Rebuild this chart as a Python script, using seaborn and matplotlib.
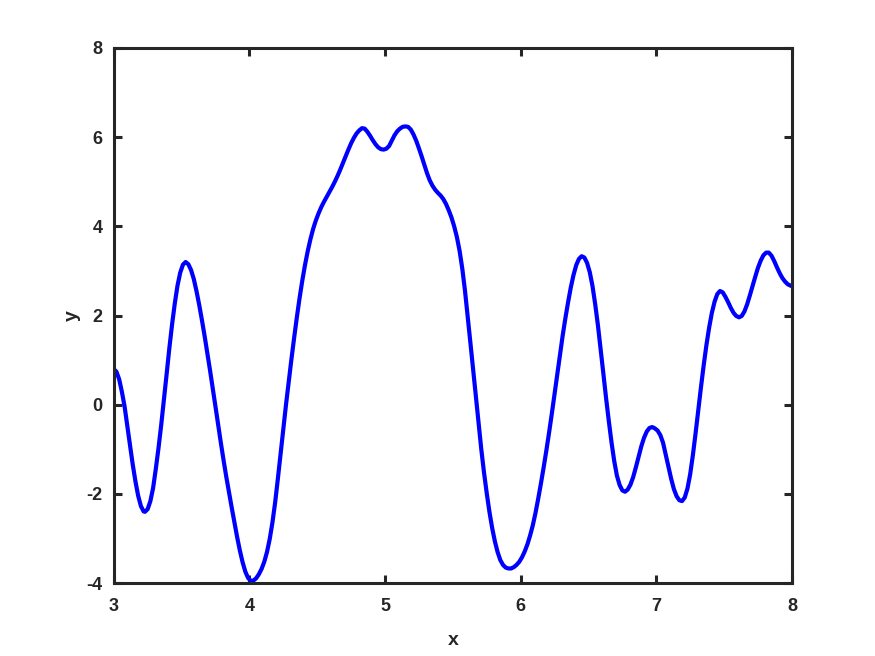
import matplotlib
matplotlib.use("Agg")
import matplotlib.pyplot as plt
import pandas as pd
import seaborn as sns

# values (x, y pairs, 10 per row)
x_vals = [
    3.00, 3.02, 3.04, 3.06, 3.08, 3.10, 3.12, 3.14, 3.16, 3.18,
    3.20, 3.22, 3.23, 3.25, 3.27, 3.29, 3.31, 3.33, 3.35, 3.37,
    3.39, 3.41, 3.43, 3.45, 3.47, 3.49, 3.51, 3.53, 3.55, 3.57,
    3.59, 3.61, 3.63, 3.65, 3.67, 3.69, 3.71, 3.73, 3.75, 3.77,
    3.79, 3.81, 3.83, 3.85, 3.87, 3.89, 3.91, 3.93, 3.95, 3.97,
    3.99, 4.01, 4.02, 4.03, 4.05, 4.07, 4.09, 4.11, 4.13, 4.15,
    4.17, 4.19, 4.21, 4.23, 4.25, 4.27, 4.29, 4.31, 4.33, 4.35,
    4.37, 4.39, 4.41, 4.43, 4.45, 4.47, 4.49, 4.51, 4.53, 4.55,
    4.57, 4.59, 4.61, 4.63, 4.65, 4.67, 4.69, 4.71, 4.73, 4.75,
    4.77, 4.79, 4.81, 4.83, 4.85, 4.87, 4.89, 4.91, 4.93, 4.95,
    4.97, 4.99, 5.01, 5.03, 5.05, 5.07, 5.09, 5.11, 5.13, 5.15,
    5.17, 5.19, 5.21, 5.23, 5.25, 5.27, 5.29, 5.31, 5.33, 5.35,
    5.37, 5.39, 5.41, 5.43, 5.45, 5.47, 5.49, 5.51, 5.53, 5.55,
    5.57, 5.59, 5.61, 5.63, 5.65, 5.67, 5.69, 5.71, 5.73, 5.75,
    5.77, 5.79, 5.81, 5.83, 5.85, 5.87, 5.89, 5.91, 5.93, 5.95,
    5.97, 5.99, 6.01, 6.03, 6.05, 6.07, 6.09, 6.11, 6.13, 6.15,
    6.17, 6.19, 6.21, 6.23, 6.25, 6.27, 6.29, 6.31, 6.33, 6.35,
    6.37, 6.39, 6.41, 6.43, 6.45, 6.47, 6.49, 6.51, 6.53, 6.55,
    6.57, 6.59, 6.61, 6.63, 6.65, 6.67, 6.69, 6.71, 6.73, 6.75,
    6.77, 6.79, 6.81, 6.83, 6.85, 6.87, 6.89, 6.91, 6.93, 6.95,
    6.97, 6.99, 7.01, 7.03, 7.05, 7.07, 7.09, 7.11, 7.13, 7.15,
    7.17, 7.19, 7.21, 7.23, 7.25, 7.27, 7.29, 7.31, 7.33, 7.35,
    7.37, 7.39, 7.41, 7.43, 7.45, 7.47, 7.49, 7.51, 7.53, 7.55,
    7.57, 7.59, 7.61, 7.63, 7.65, 7.67, 7.69, 7.71, 7.73, 7.75,
    7.77, 7.79, 7.81, 7.83, 7.85, 7.87, 7.89, 7.91, 7.93, 7.95,
    7.97, 7.99, 8.00,
]
y_vals = [
    0.80, 0.74, 0.57, 0.29, -0.04, -0.48, -0.91, -1.34, -1.72, -2.04,
    -2.27, -2.39, -2.40, -2.34, -2.16, -1.87, -1.44, -0.97, -0.45, 0.11,
    0.69, 1.27, 1.80, 2.27, 2.67, 2.96, 3.14, 3.20, 3.15, 3.02,
    2.82, 2.55, 2.24, 1.90, 1.54, 1.16, 0.77, 0.37, -0.04, -0.45,
    -0.86, -1.25, -1.62, -1.97, -2.31, -2.64, -2.97, -3.27, -3.53, -3.74,
    -3.88, -3.95, -3.95, -3.94, -3.89, -3.80, -3.68, -3.52, -3.30, -3.01,
    -2.64, -2.19, -1.66, -1.10, -0.54, 0.00, 0.52, 1.02, 1.50, 1.96,
    2.39, 2.78, 3.13, 3.44, 3.71, 3.94, 4.13, 4.29, 4.43, 4.55,
    4.66, 4.77, 4.88, 5.00, 5.13, 5.27, 5.42, 5.57, 5.72, 5.86,
    5.98, 6.08, 6.15, 6.20, 6.19, 6.12, 6.03, 5.93, 5.84, 5.77,
    5.73, 5.72, 5.74, 5.80, 5.92, 6.04, 6.13, 6.19, 6.23, 6.24,
    6.23, 6.17, 6.06, 5.92, 5.75, 5.57, 5.38, 5.19, 5.03, 4.91,
    4.82, 4.75, 4.69, 4.61, 4.50, 4.36, 4.20, 4.00, 3.76, 3.45,
    3.05, 2.55, 1.97, 1.38, 0.78, 0.18, -0.42, -1.00, -1.52, -1.98,
    -2.40, -2.76, -3.06, -3.30, -3.48, -3.59, -3.65, -3.67, -3.67, -3.64,
    -3.59, -3.52, -3.42, -3.29, -3.13, -2.93, -2.70, -2.42, -2.10, -1.76,
    -1.40, -1.02, -0.62, -0.20, 0.24, 0.69, 1.13, 1.55, 1.94, 2.30,
    2.63, 2.91, 3.13, 3.27, 3.33, 3.30, 3.18, 2.97, 2.66, 2.25,
    1.78, 1.25, 0.70, 0.15, -0.36, -0.84, -1.26, -1.59, -1.80, -1.92,
    -1.95, -1.90, -1.79, -1.62, -1.40, -1.16, -0.93, -0.74, -0.60, -0.52,
    -0.50, -0.53, -0.58, -0.68, -0.85, -1.12, -1.40, -1.66, -1.89, -2.05,
    -2.14, -2.16, -2.08, -1.88, -1.56, -1.13, -0.64, -0.12, 0.40, 0.89,
    1.34, 1.73, 2.06, 2.31, 2.48, 2.55, 2.52, 2.42, 2.30, 2.17,
    2.06, 1.99, 1.96, 1.99, 2.09, 2.25, 2.45, 2.66, 2.87, 3.07,
    3.23, 3.35, 3.41, 3.41, 3.34, 3.22, 3.08, 2.95, 2.84, 2.76,
    2.70, 2.67, 2.66,
]
x_ticks = [3, 4, 5, 6, 7, 8]
y_ticks = [-4, -2, 0, 2, 4, 6, 8]

sns.set_style("white")
plt.rcParams['font.family'] = ['Liberation Sans', 'DejaVu Sans']
plt.rcParams['axes.unicode_minus'] = False

data = pd.DataFrame({'x': x_vals, 'y': y_vals})

fig = plt.figure(figsize=(8.75, 6.56), dpi=100)
ax = fig.add_axes([0.13, 0.111, 0.775, 0.816])

sns.lineplot(data=data, x='x', y='y', estimator=None, sort=False,
             color='#0000ff', linewidth=3.0, ax=ax)
for line in ax.lines:
    line.set_solid_joinstyle('round')
    line.set_solid_capstyle('round')

ax.set_xlim(3, 8)
ax.set_ylim(-4, 8)
ax.set_xticks(x_ticks)
ax.set_yticks(y_ticks)

edge = '#262626'
for side in ax.spines.values():
    side.set_visible(True)
    side.set_color(edge)
    side.set_linewidth(2.2)

ax.tick_params(axis='both', direction='in', length=6, width=2.2,
               color=edge, labelcolor=edge, labelsize=13,
               top=True, right=True, bottom=True, left=True)
ax.tick_params(axis='x', pad=11)
ax.tick_params(axis='y', pad=8)
for lbl in ax.get_xticklabels() + ax.get_yticklabels():
    lbl.set_fontweight('bold')

ax.set_xlabel('x', fontsize=14, fontweight='bold', color=edge, labelpad=12)
ax.set_ylabel('y', fontsize=14, fontweight='bold', color=edge, labelpad=4)

fig.savefig('out.png', dpi=100, facecolor='white')
